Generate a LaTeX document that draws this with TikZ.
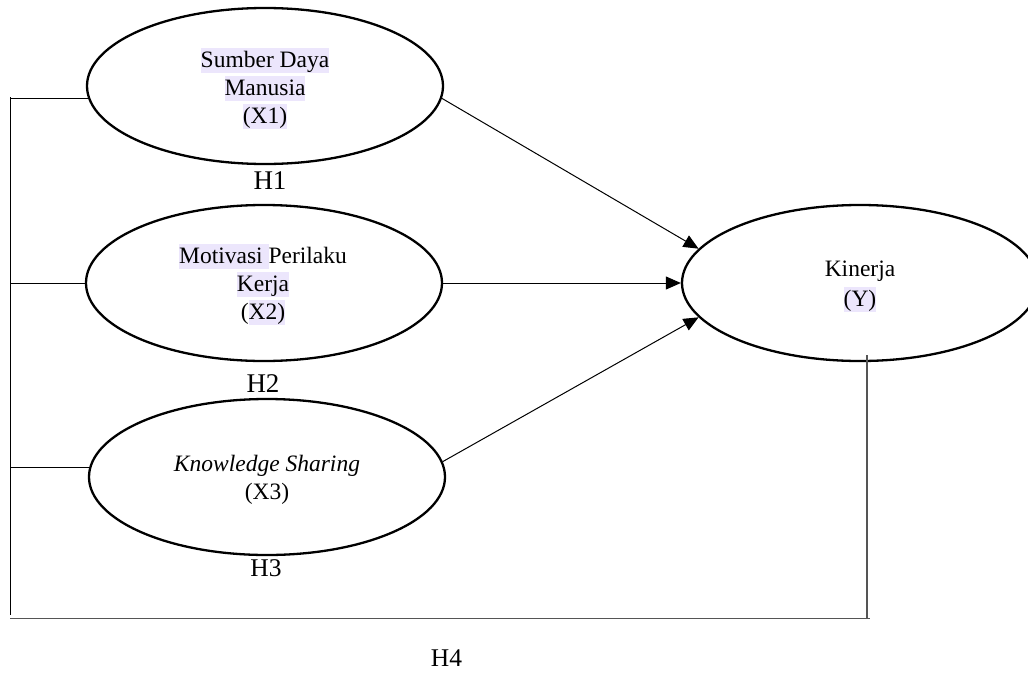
\documentclass[tikz,border=0pt]{standalone}
\usepackage{fontspec}
\setmainfont{Liberation Serif}
\usetikzlibrary{shapes.geometric,arrows.meta}
\definecolor{hlcol}{RGB}{236,230,252}
\definecolor{dgray}{RGB}{85,85,85}
\newcommand{\hlt}[1]{{\setlength{\fboxsep}{0pt}\colorbox{hlcol}{\vrule height 19.5pt depth 5.5pt width 0pt #1}}}
\begin{document}
\begin{tikzpicture}[x=1pt,y=-1pt,
  ell/.style={ellipse, draw, line width=2.3pt, minimum width=356pt, minimum height=156pt, inner sep=0pt},
  txt/.style={align=center, inner sep=0pt, font=\fontsize{23.5}{28}\selectfont},
  hbig/.style={inner sep=0pt, font=\fontsize{27}{30}\selectfont},
  hsmall/.style={inner sep=0pt, font=\fontsize{25.5}{28}\selectfont},
  conn/.style={line width=1pt},
  arr/.style={line width=1pt, -{Triangle[length=15pt,width=13pt]}}]
\useasboundingbox (0,0) rectangle (1028,672);
\fill[white] (0,0) rectangle (1028,672);
\clip (0,0) rectangle (1028,672);
% ellipses
\node[ell] (x1) at (265,86) {};
\node[ell] (x2) at (264,283) {};
\node[ell] (x3) at (267,477) {};
\node[ell] (y) at (860,283) {};
% texts
\node[txt] (t1) at (265,88) {\hlt{Sumber Daya}\\\hlt{Manusia}\\\hlt{(X1)}};
\node[txt] (t2) at (263,284) {\hlt{Motivasi }Perilaku\\\hlt{Kerja}\\(\hlt{X2)}};
\node[txt] (t3) at (267,480) {\textit{Knowledge Sharing}\\(X3)};
\node[txt] (ty) at (860,286) {Kinerja\\[2pt]\hlt{(Y)}};
% labels
\node[hbig] (h1) at (270,181) {H1};
\node[hbig] (h2) at (263,384) {H2};
\node[hsmall] (h3) at (266,568.5) {H3};
\node[hsmall] (h4) at (446.5,658.5) {H4};
% frame coordinates
\coordinate (lt) at (10,97);
\coordinate (lb) at (10,615);
\coordinate (bl) at (10,618.5);
\coordinate (br) at (870,618.5);
\coordinate (yb) at (867,355);
% left connectors
\draw[conn] (lt) -- (lb);
\draw[conn] (x1.184) -- (x1.184 -| lt);
\draw[conn] (x2.west) -- (x2.west -| lt);
\draw[conn] (x3.177.7) -- (x3.177.7 -| lt);
% bottom path to Kinerja
\draw[dgray, line width=1.6pt] (bl) -- (br);
\draw[dgray, line width=1.3pt] (yb) -- (yb |- br);
% arrows
\draw[arr] (x1.-4) -- (y.168);
\draw[arr] (x2.east) -- (y.west);
\draw[arr] (x3.5) -- (y.192);
\end{tikzpicture}
\end{document}
